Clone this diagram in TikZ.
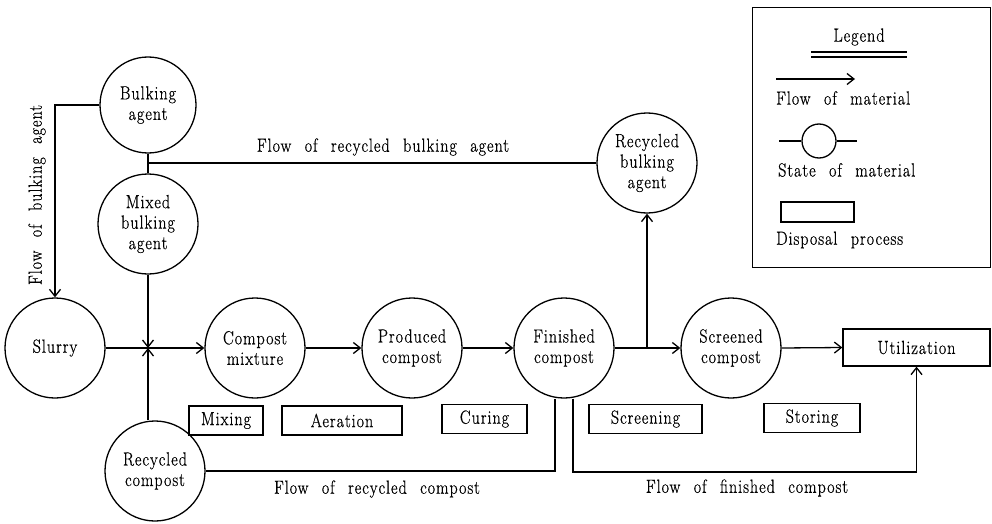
\documentclass[tikz,border=0pt]{standalone}
\usepackage{fontspec}
\setmainfont{Latin Modern Roman}[LetterSpace=5,FakeStretch=0.85,FakeBold=0.6,WordSpace=2.3]
\usetikzlibrary{arrows.meta}
\newcommand\dfont{\fontsize{19}{20.5}\selectfont}
\tikzset{
 state/.style={circle,draw,line width=1.3pt,minimum size=100pt,inner sep=0pt,align=center,font=\dfont},
 proc/.style={rectangle,draw,line width=1.3pt,minimum height=29pt,inner sep=0pt,font=\dfont},
 flow/.style={line width=1.3pt,-{Straight Barb[length=7pt,width=11pt,line width=1.3pt]}},
 link/.style={line width=1.3pt},
 lbl/.style={font=\dfont,inner sep=0pt}
}
\begin{document}
\begin{tikzpicture}[x=1pt,y=-1pt]
\useasboundingbox (0,0) rectangle (992,524);
% states
\node[state,minimum size=96pt] (bulk) at (148,105) {Bulking\\agent};
\node[state] (mixed) at (148,224) {Mixed\\bulking\\agent};
\node[state] (slurry) at (55,348) {Slurry};
\coordinate (junc) at (148,348);
\node[state] (cmix) at (255,348) {Compost\\mixture};
\node[state] (prod) at (412,348) {Produced\\compost};
\node[state] (fin) at (564,348) {Finished\\compost};
\node[state] (scr) at (731,348) {Screened\\compost};
\node[proc,minimum width=147pt,minimum height=37pt] (util) at (916.5,347.5) {Utilization};
\node[state] (rbulk) at (647,163) {Recycled\\bulking\\agent};
\node[state] (rcomp) at (155,471) {Recycled\\compost};
% processes
\node[proc,minimum width=74pt] (pmix) at (226,420.5) {Mixing};
\node[proc,minimum width=120pt] (paer) at (342,420.5) {Aeration};
\node[proc,minimum width=85pt] (pcur) at (484.5,419) {Curing};
\node[proc,minimum width=113pt] (pscr) at (645.5,419) {Screening};
\node[proc,minimum width=96pt] (psto) at (812,418) {Storing};
% connectors
\draw[link] (bulk) -- (mixed);
\draw[flow] (bulk.west) -| (slurry.north);
\draw[link] (rbulk.west) -- (rbulk.west -| bulk.south);
\draw[flow] (mixed.south) -- (junc);
\draw[flow] (rcomp.north -| junc) -- (junc);
\draw[flow] (slurry.east) -- (cmix.west);
\draw[flow] (cmix.east) -- (prod.west);
\draw[flow] (prod.east) -- (fin.west);
\draw[flow] (fin.east) -- (scr.west);
\coordinate (br) at (647,348);
\draw[flow] (br) -- (rbulk.south);
\draw[flow] (scr.east) -- (util.west);
\draw[link] ([xshift=-9pt]fin.south) |- (rcomp.east);
\coordinate (fcor) at (573,472);
\draw[flow] ([xshift=9pt]fin.south) -- (fcor) -| (util.south);
% labels
\node[lbl] (lrb) at (383,147) {Flow of recycled bulking agent};
\node[lbl,rotate=90] (lba) at (37,195) {Flow of bulking agent};
\node[lbl] (lrc) at (377,489) {Flow of recycled compost};
\node[lbl] (lfc) at (747,488) {Flow of finished compost};
% legend
\node[draw,line width=1pt,minimum width=238pt,minimum height=259pt,inner sep=0pt] (leg) at (871,137.5) {};
\node[lbl] (legt) at (859,37) {Legend};
\coordinate (u1a) at (811,52); \coordinate (u1b) at (907,52);
\coordinate (u2a) at (811,57); \coordinate (u2b) at (907,57);
\draw[line width=1.3pt] (u1a) -- (u1b);
\draw[line width=1.3pt] (u2a) -- (u2b);
\coordinate (la) at (776,79); \coordinate (lb) at (855,79);
\draw[flow] (la) -- (lb);
\node[lbl,anchor=west] (lfm) at (776,98) {Flow of material};
\node[circle,draw,line width=1.3pt,minimum size=34pt,inner sep=0pt] (lc) at (819,141) {};
\coordinate (lcl) at (779,141); \coordinate (lcr) at (857,141);
\draw[link] (lcl) -- (lc.west);
\draw[link] (lc.east) -- (lcr);
\node[lbl,anchor=west] (lsm) at (778,170) {State of material};
\node[draw,line width=1.3pt,minimum width=73pt,minimum height=20pt,inner sep=0pt] (lr) at (817.5,212) {};
\node[lbl,anchor=west] (ldp) at (776,240) {Disposal process};
\end{tikzpicture}
\end{document}
